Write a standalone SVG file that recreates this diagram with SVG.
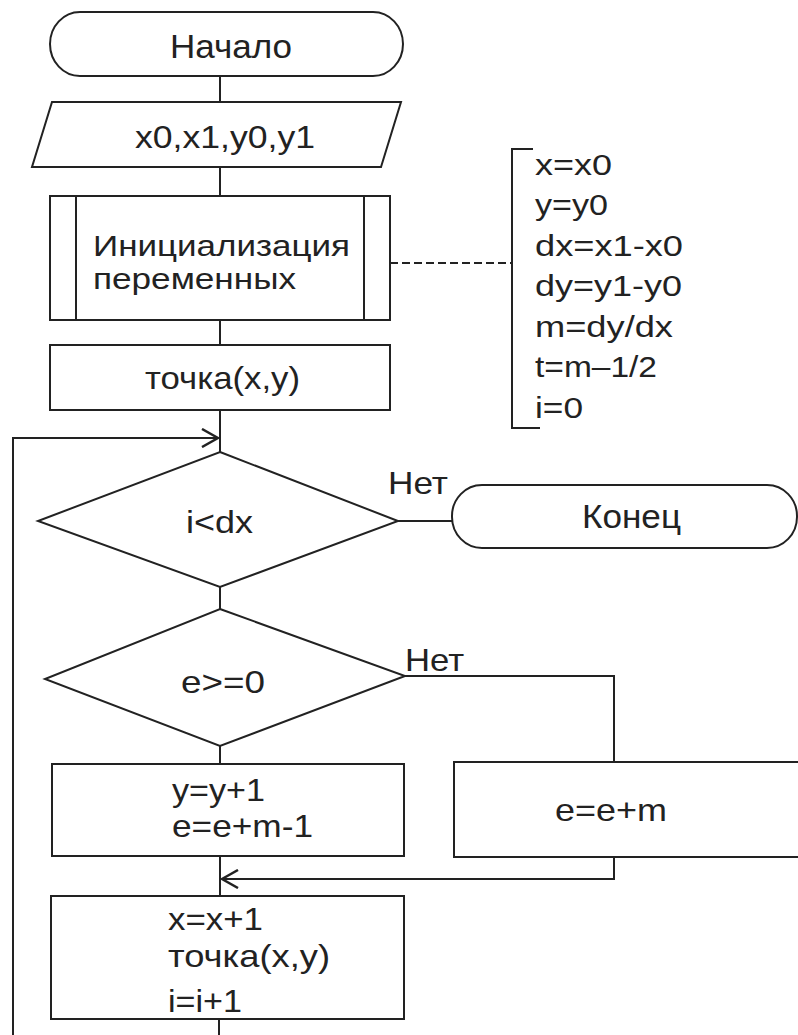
<svg xmlns="http://www.w3.org/2000/svg" width="798" height="1035" viewBox="0 0 798 1035">
<style>
.s{fill:#fff;stroke:#222;stroke-width:2}
.l{fill:none;stroke:#222;stroke-width:2}
.t{font-family:"Liberation Sans",Arial,sans-serif;font-size:32px;fill:#222}
.big{font-size:34px}
.sm{font-size:29px}
.in{font-size:29px}
</style>
<defs>
<marker id="ah" viewBox="0 0 20 20" refX="18" refY="10" markerWidth="20" markerHeight="20" markerUnits="userSpaceOnUse" orient="auto">
<path d="M2,1 L18,10 L2,19" fill="none" stroke="#222" stroke-width="2.5"/>
</marker>
</defs>
<rect width="798" height="1035" fill="#fff"/>
<g id="connectors">
<line class="l" x1="220" y1="76" x2="220" y2="102"/>
<line class="l" x1="220" y1="167" x2="220" y2="196"/>
<line class="l" x1="220" y1="320" x2="220" y2="345"/>
<line class="l" x1="220" y1="410" x2="220" y2="452"/>
<path class="l" d="M13,1035 V438 H218" marker-end="url(#ah)"/>
<line class="l" x1="398" y1="521" x2="452" y2="521"/>
<line class="l" x1="220" y1="587" x2="220" y2="609"/>
<path class="l" d="M405,676 H614 V762"/>
<line class="l" x1="220" y1="746" x2="220" y2="764"/>
<path class="l" d="M614,857 V879 H222" marker-end="url(#ah)"/>
<line class="l" x1="220" y1="856" x2="220" y2="896"/>
<line class="l" x1="219" y1="1019" x2="219" y2="1035"/>
<line class="l" x1="390" y1="263" x2="512" y2="263" stroke-dasharray="8,4"/>
<text class="t" x="388" y="494" textLength="60" lengthAdjust="spacingAndGlyphs">Нет</text>
<text class="t" x="405" y="671" textLength="59" lengthAdjust="spacingAndGlyphs">Нет</text>
</g>
<g id="start">
<rect class="s" x="50" y="12" width="353" height="64" rx="30" ry="32"/>
<text class="t big" x="170" y="58" textLength="122" lengthAdjust="spacingAndGlyphs">Начало</text>
</g>
<g id="input">
<polygon class="s" points="52,102 401,102 381,167 32,167"/>
<text class="t" x="135" y="148" textLength="180" lengthAdjust="spacingAndGlyphs">x0,x1,y0,y1</text>
</g>
<g id="init">
<rect class="s" x="50" y="196" width="340" height="124"/>
<line class="l" x1="76" y1="196" x2="76" y2="320"/>
<line class="l" x1="364" y1="196" x2="364" y2="320"/>
<text class="t in" x="93" y="256" textLength="257" lengthAdjust="spacingAndGlyphs">Инициализация</text>
<text class="t in" x="93" y="289" textLength="203" lengthAdjust="spacingAndGlyphs">переменных</text>
</g>
<g id="comment">
<path class="l" d="M533,149 H512 V428 H540"/>
<text class="t sm" x="535" y="175" textLength="77" lengthAdjust="spacingAndGlyphs">x=x0</text>
<text class="t sm" x="535" y="215" textLength="73" lengthAdjust="spacingAndGlyphs">y=y0</text>
<text class="t sm" x="535" y="256" textLength="148" lengthAdjust="spacingAndGlyphs">dx=x1-x0</text>
<text class="t sm" x="535" y="296" textLength="147" lengthAdjust="spacingAndGlyphs">dy=y1-y0</text>
<text class="t sm" x="535" y="337" textLength="138" lengthAdjust="spacingAndGlyphs">m=dy/dx</text>
<text class="t sm" x="535" y="377" textLength="122" lengthAdjust="spacingAndGlyphs">t=m–1/2</text>
<text class="t sm" x="535" y="418" textLength="48" lengthAdjust="spacingAndGlyphs">i=0</text>
</g>
<g id="point1">
<rect class="s" x="50" y="345" width="340" height="65"/>
<text class="t" x="145" y="389" textLength="155" lengthAdjust="spacingAndGlyphs">точка(x,y)</text>
</g>
<g id="cond1">
<polygon class="s" points="220,452 398,521 220,587 38,521"/>
<text class="t" x="186" y="533" textLength="67" lengthAdjust="spacingAndGlyphs">i&lt;dx</text>
</g>
<g id="end">
<rect class="s" x="452" y="485" width="345" height="63" rx="30" ry="31"/>
<text class="t big" x="582" y="528" textLength="99" lengthAdjust="spacingAndGlyphs">Конец</text>
</g>
<g id="cond2">
<polygon class="s" points="220,609 405,676 220,746 45,679"/>
<text class="t" x="181" y="693" textLength="84" lengthAdjust="spacingAndGlyphs">e&gt;=0</text>
</g>
<g id="yes-branch">
<rect class="s" x="52" y="764" width="352" height="92"/>
<text class="t" x="172" y="801" textLength="93" lengthAdjust="spacingAndGlyphs">y=y+1</text>
<text class="t" x="172" y="837" textLength="141" lengthAdjust="spacingAndGlyphs">e=e+m-1</text>
</g>
<g id="no-branch">
<rect class="s" x="454" y="762" width="360" height="95"/>
<text class="t" x="555" y="821" textLength="112" lengthAdjust="spacingAndGlyphs">e=e+m</text>
</g>
<g id="step">
<rect class="s" x="51" y="896" width="353" height="123"/>
<text class="t" x="168" y="930" textLength="95" lengthAdjust="spacingAndGlyphs">x=x+1</text>
<text class="t" x="168" y="967" textLength="162" lengthAdjust="spacingAndGlyphs">точка(x,y)</text>
<text class="t" x="168" y="1012" textLength="74" lengthAdjust="spacingAndGlyphs">i=i+1</text>
</g>
</svg>
